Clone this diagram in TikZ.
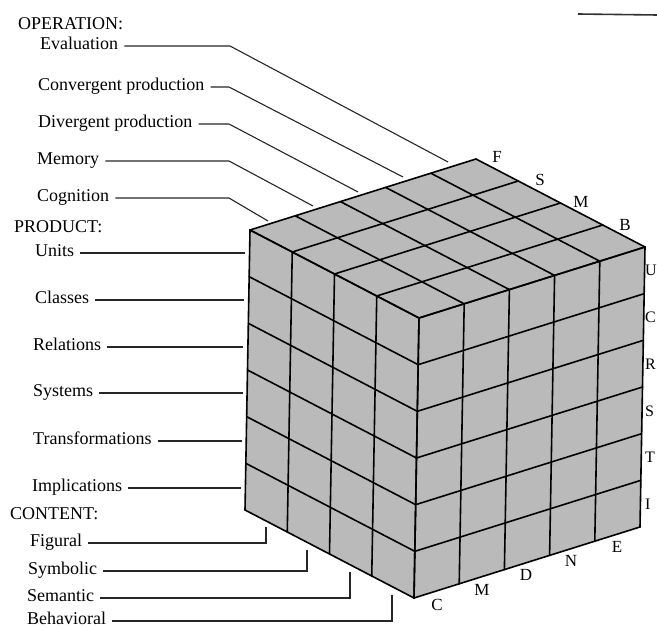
\documentclass[tikz,border=0pt]{standalone}
\usepackage{fontspec}
\setmainfont{Liberation Serif}
\usetikzlibrary{calc}
\begin{document}
\begin{tikzpicture}[x=1pt,y=-1pt,
  lbl/.style={font=\fontsize{18}{20}\selectfont, inner sep=0pt, text height=12pt, text depth=4pt, anchor=west},
  hdr/.style={font=\fontsize{18}{20}\selectfont, inner sep=0pt, anchor=base west},
  letter/.style={font=\fontsize{17}{20}\selectfont, inner sep=0pt},
  rletter/.style={font=\fontsize{16}{18}\selectfont, inner sep=0pt, anchor=west},
  leader/.style={line width=1.1pt, black!85},
  grid/.style={line width=1.6pt, black, line cap=round, line join=round},
  face/.style={fill=black!27}]
\useasboundingbox (0,0) rectangle (657,628);

% stray rule at top right
\draw[line width=1.6pt, black!80] (578,14) -- (657,15);

% cube corners
\coordinate (F) at (419,318);
\coordinate (L) at (250,230);
\coordinate (R) at (645,247);
\coordinate (B) at (476,159);
\coordinate (FB) at (414,598);
\coordinate (LB) at (245,510);
\coordinate (RB) at (640,527);

% faces
\fill[face] (F) -- (L) -- (B) -- (R) -- cycle;
\fill[face] (F) -- (L) -- (LB) -- (FB) -- cycle;
\fill[face] (F) -- (R) -- (RB) -- (FB) -- cycle;

% left face grid
\foreach \i in {0,...,4} \draw[grid] ($(F)!\i/4!(L)$) -- ($(FB)!\i/4!(LB)$);
\foreach \j in {0,...,6} \draw[grid] ($(F)!\j/6!(FB)$) -- ($(L)!\j/6!(LB)$);
% right face grid
\foreach \i in {0,...,5} \draw[grid] ($(F)!\i/5!(R)$) -- ($(FB)!\i/5!(RB)$);
\foreach \j in {0,...,6} \draw[grid] ($(F)!\j/6!(FB)$) -- ($(R)!\j/6!(RB)$);
% top face grid
\foreach \i in {0,...,5} \draw[grid] ($(F)!\i/5!(R)$) -- ($(L)!\i/5!(B)$);
\foreach \i in {0,...,4} \draw[grid] ($(F)!\i/4!(L)$) -- ($(R)!\i/4!(B)$);

% top edge letters
\node[letter] (lF) at (497,157) {F};
\node[letter] (lS) at (540,180) {S};
\node[letter] (lM) at (581,202) {M};
\node[letter] (lB) at (625,225) {B};
% right edge letters
\node[rletter] (rU) at (645,270) {U};
\node[rletter] (rC) at (645,317) {C};
\node[rletter] (rR) at (645,364) {R};
\node[rletter] (rS) at (645,411) {S};
\node[rletter] (rT) at (645,457) {T};
\node[rletter] (rI) at (645,504) {I};
% bottom edge letters
\node[letter] (bC) at (437,605) {C};
\node[letter] (bM) at (482,590) {M};
\node[letter] (bD) at (526,575) {D};
\node[letter] (bN) at (571,561) {N};
\node[letter] (bE) at (617,547) {E};

% headers
\node[hdr] (hop) at (18,30) {OPERATION:};
\node[hdr] (hpr) at (14,233) {PRODUCT:};
\node[hdr] (hco) at (10,520) {CONTENT:};

% operation labels
\node[lbl] (ev) at (40,46) {Evaluation};
\node[lbl] (cp) at (38,87) {Convergent production};
\node[lbl] (dp) at (38,124) {Divergent production};
\node[lbl] (me) at (37,161) {Memory};
\node[lbl] (cg) at (37,198) {Cognition};
\coordinate (evK) at (230,46);  \coordinate (evE) at (448,162);
\coordinate (cpK) at (229,87);  \coordinate (cpE) at (403,177);
\coordinate (dpK) at (229,124); \coordinate (dpE) at (358,192);
\coordinate (meK) at (229,161); \coordinate (meE) at (313,206);
\coordinate (cgK) at (229,198); \coordinate (cgE) at (268,221);
\foreach \n in {ev,cp,dp,me,cg}
  \draw[leader] ([xshift=6pt]\n.east) -- (\n K) -- (\n E);

% product labels
\node[lbl] (un) at (35,253) {Units};
\node[lbl] (cl) at (35,300) {Classes};
\node[lbl] (re) at (33,347) {Relations};
\node[lbl] (sy) at (33,393) {Systems};
\node[lbl] (tr) at (33,441) {Transformations};
\node[lbl] (im) at (32,488) {Implications};
\coordinate (unE) at (245,253);
\coordinate (clE) at (244,300);
\coordinate (reE) at (243,347);
\coordinate (syE) at (243,393);
\coordinate (trE) at (242,441);
\coordinate (imE) at (241,488);
\foreach \n in {un,cl,re,sy,tr,im}
  \draw[leader] ([xshift=6pt]\n.east) -- (\n E);

% content labels
\node[lbl] (fi) at (30,543) {Figural};
\node[lbl] (sb) at (28,571) {Symbolic};
\node[lbl] (se) at (27,598) {Semantic};
\node[lbl] (be) at (27,621) {Behavioral};
\coordinate (fiK) at (266,543); \coordinate (fiE) at (266,527);
\coordinate (sbK) at (307,571); \coordinate (sbE) at (307,550);
\coordinate (seK) at (350,598); \coordinate (seE) at (350,572);
\coordinate (beK) at (392,621); \coordinate (beE) at (392,595);
\foreach \n in {fi,sb,se,be}
  \draw[leader] ([xshift=6pt]\n.east) -- (\n K) -- (\n E);
\end{tikzpicture}
\end{document}
